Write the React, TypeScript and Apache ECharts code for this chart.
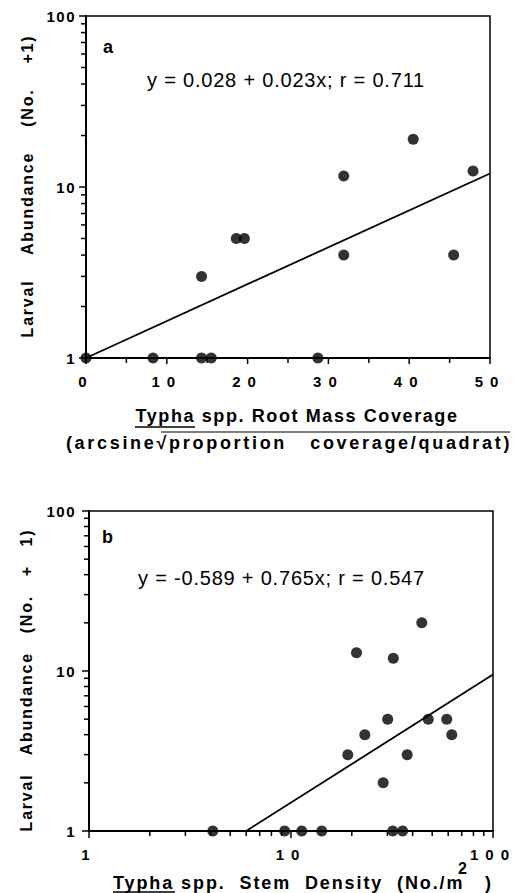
import React, { useEffect, useRef } from 'react';
import * as echarts from 'echarts';

// Panel a: root mass coverage vs larval abundance
const coverageA = [0, 8.3, 14.3, 15.5, 28.7, 14.3, 18.6, 19.6, 31.9, 31.9, 40.5, 45.5, 47.9];
const abundanceA = [1, 1, 1, 1, 1, 3, 5, 5, 11.6, 4, 19, 4, 12.4];
const fitAX = [0, 50];
const fitAY = [1, 12];

// Panel b: stem density vs larval abundance
const densityB = [4.1, 9.3, 11.3, 14.2, 31.9, 35.7, 19.1, 21.1, 23.2, 28.6, 30.1, 32.1, 37.6, 44.4, 47.8, 59, 62.5];
const abundanceB = [1, 1, 1, 1, 1, 1, 3, 13, 4, 2, 5, 12, 3, 20, 5, 5, 4];
const fitBX = [6, 100];
const fitBY = [1, 9.5];

// Ticks and labels
const xLabelsA = [0, 10, 20, 30, 40, 50];
const xMinorA = [5, 15, 25, 35, 45];
const logLabels = [1, 10, 100];
const logMinor = [2, 3, 4, 5, 6, 7, 8, 9, 20, 30, 40, 50, 60, 70, 80, 90];

const EQ_A = 'y = 0.028 + 0.023x; r = 0.711';
const EQ_B = 'y = -0.589 + 0.765x; r = 0.547';
const TITLE_A1 = 'Typha spp. Root Mass Coverage';
const TITLE_A2 = '(arcsine\u221Aproportion   coverage/quadrat)';
const TITLE_B = 'Typha spp.  Stem  Density  (No./m';
const YTITLE_A = 'Larval    Abundance    (No.    +1)';
const YTITLE_B = 'Larval   Abundance   (No.   +   1)';

const FONT = "'Liberation Sans', Arial, Helvetica, sans-serif";

function spacingFor(t: SVGTextElement): number | null {
  const s = t.textContent || '';
  if (s === EQ_A || s === EQ_B) return 0.8;
  if (s === TITLE_A1) return 1.6;
  if (s === TITLE_B) return 1.9;
  if (s === TITLE_A2) return 2.7;
  if (s === YTITLE_A || s === YTITLE_B) return 1.8;
  if (/^\d+$/.test(s)) {
    const anchor = t.getAttribute('text-anchor');
    if (anchor === 'end') return 1.5;
    return 7;
  }
  return null;
}

function applySpacing(root: HTMLElement | null) {
  if (!root) return;
  root.querySelectorAll('text').forEach((node) => {
    const t = node as SVGTextElement;
    t.style.whiteSpace = 'pre';
    const ls = spacingFor(t);
    if (ls !== null) t.style.letterSpacing = ls + 'px';
  });
}

const tickLabel = { fontFamily: FONT, fontWeight: 'bold' as const, fontSize: 15, color: '#000' };

// custom series that draws outward tick marks at data values via the axes' scales
function tickSeries(xAxisIndex: number, yAxisIndex: number, data: number[][], dir: 'left' | 'down') {
  return {
    type: 'custom',
    xAxisIndex,
    yAxisIndex,
    clip: false,
    silent: true,
    z: 5,
    encode: { x: 0, y: 1 },
    data,
    renderItem: (_params: any, api: any) => {
      const p = api.coord([api.value(0), api.value(1)]);
      const len = api.value(2);
      const shape = dir === 'left'
        ? { x1: p[0] - len, y1: p[1], x2: p[0], y2: p[1] }
        : { x1: p[0], y1: p[1], x2: p[0], y2: p[1] + len };
      return { type: 'line', shape, style: { stroke: '#000', lineWidth: 1.5 } };
    },
  };
}

export default function App() {
  const ref = useRef<HTMLDivElement>(null);

  useEffect(() => {
    if (!ref.current) return;
    const chart = echarts.init(ref.current, undefined, { renderer: 'svg' });

    const axisLine = { show: true, lineStyle: { color: '#000', width: 2 } };
    const noTick = { show: false };

    const yTicksA = [...logLabels.map((v) => [0, v, 7]), ...logMinor.map((v) => [0, v, 5])];
    const xTicksA = [...xLabelsA.map((v) => [v, 1, 6]), ...xMinorA.map((v) => [v, 1, 5])];
    const yTicksB = [...logLabels.map((v) => [1, v, 7]), ...logMinor.map((v) => [1, v, 5])];
    const xTicksB = [...logLabels.map((v) => [v, 1, 7]), ...logMinor.map((v) => [v, 1, 5])];

    chart.setOption({
      animation: false,
      backgroundColor: '#fff',
      grid: [
        { left: 86, top: 16, width: 404, height: 342, show: true, borderColor: '#000', borderWidth: 1.5 },
        { left: 89, top: 511, width: 404, height: 320, show: true, borderColor: '#000', borderWidth: 1.5 },
      ],
      xAxis: [
        {
          gridIndex: 0, type: 'value', min: 0, max: 50, interval: 10,
          axisLine, axisTick: noTick,
          axisLabel: { ...tickLabel, margin: 16, customValues: xLabelsA },
          splitLine: { show: false },
        },
        {
          gridIndex: 1, type: 'log', logBase: 10, min: 1, max: 100,
          axisLine, axisTick: noTick,
          axisLabel: { ...tickLabel, margin: 16, customValues: logLabels },
          splitLine: { show: false },
        },
      ],
      yAxis: [
        {
          gridIndex: 0, type: 'log', logBase: 10, min: 1, max: 100,
          axisLine, axisTick: noTick,
          axisLabel: { ...tickLabel, margin: 10, customValues: logLabels },
          splitLine: { show: false },
        },
        {
          gridIndex: 1, type: 'log', logBase: 10, min: 1, max: 100,
          axisLine, axisTick: noTick,
          axisLabel: { ...tickLabel, margin: 13, customValues: logLabels },
          splitLine: { show: false },
        },
      ],
      series: [
        tickSeries(0, 0, yTicksA, 'left'),
        tickSeries(0, 0, xTicksA, 'down'),
        tickSeries(1, 1, yTicksB, 'left'),
        tickSeries(1, 1, xTicksB, 'down'),
        {
          type: 'line', xAxisIndex: 0, yAxisIndex: 0,
          data: fitAX.map((x, i) => [x, fitAY[i]]),
          showSymbol: false, symbol: 'none', clip: false,
          lineStyle: { color: '#000', width: 1.8 },
        },
        {
          type: 'scatter', xAxisIndex: 0, yAxisIndex: 0,
          data: coverageA.map((x, i) => [x, abundanceA[i]]),
          symbol: 'circle', symbolSize: 11, clip: false,
          itemStyle: { color: '#000' },
        },
        {
          type: 'line', xAxisIndex: 1, yAxisIndex: 1,
          data: fitBX.map((x, i) => [x, fitBY[i]]),
          showSymbol: false, symbol: 'none', clip: false,
          lineStyle: { color: '#000', width: 1.8 },
        },
        {
          type: 'scatter', xAxisIndex: 1, yAxisIndex: 1,
          data: densityB.map((x, i) => [x, abundanceB[i]]),
          symbol: 'circle', symbolSize: 11, clip: false,
          itemStyle: { color: '#000' },
        },
      ],
      graphic: [
        { type: 'text', x: 103, y: 47, style: { text: 'a', font: `bold 18px ${FONT}`, fill: '#000', textVerticalAlign: 'middle' } },
        { type: 'text', x: 147, y: 80, style: { text: EQ_A, font: `20px ${FONT}`, fill: '#000', textVerticalAlign: 'middle' } },
        { type: 'text', x: 102, y: 537, style: { text: 'b', font: `bold 18px ${FONT}`, fill: '#000', textVerticalAlign: 'middle' } },
        { type: 'text', x: 138, y: 578, style: { text: EQ_B, font: `20px ${FONT}`, fill: '#000', textVerticalAlign: 'middle' } },
        { type: 'text', x: 297, y: 416, style: { text: TITLE_A1, font: `bold 18px ${FONT}`, fill: '#000', textAlign: 'center', textVerticalAlign: 'middle' } },
        { type: 'line', shape: { x1: 135, y1: 427, x2: 195, y2: 427 }, style: { stroke: '#000', lineWidth: 1.5 } },
        { type: 'text', x: 289, y: 443, style: { text: TITLE_A2, font: `bold 18px ${FONT}`, fill: '#000', textAlign: 'center', textVerticalAlign: 'middle' } },
        { type: 'line', shape: { x1: 161, y1: 432, x2: 510, y2: 432 }, style: { stroke: '#000', lineWidth: 1.2 } },
        { type: 'text', x: 113, y: 883, style: { text: TITLE_B, font: `bold 18px ${FONT}`, fill: '#000', textVerticalAlign: 'middle' } },
        { type: 'text', x: 466, y: 868, style: { text: '2', font: `bold 16px ${FONT}`, fill: '#000', textAlign: 'center', textVerticalAlign: 'middle' } },
        { type: 'text', x: 485, y: 883, style: { text: ')', font: `bold 18px ${FONT}`, fill: '#000', textVerticalAlign: 'middle' } },
        { type: 'line', shape: { x1: 113, y1: 892, x2: 175, y2: 892 }, style: { stroke: '#000', lineWidth: 1.5 } },
        { type: 'text', x: 27, y: 186, rotation: Math.PI / 2, style: { text: YTITLE_A, font: `bold 16px ${FONT}`, fill: '#000', textAlign: 'center', textVerticalAlign: 'middle' } },
        { type: 'text', x: 26, y: 680, rotation: Math.PI / 2, style: { text: YTITLE_B, font: `bold 16px ${FONT}`, fill: '#000', textAlign: 'center', textVerticalAlign: 'middle' } },
      ],
    });

    const el = ref.current;
    applySpacing(el);
    chart.on('finished', () => applySpacing(el));
    const timer = window.setTimeout(() => applySpacing(el), 50);

    return () => {
      window.clearTimeout(timer);
      chart.dispose();
    };
  }, []);

  return (
    <div
      ref={ref}
      style={{ position: 'fixed', left: 0, top: 0, width: 515, height: 893, background: '#fff' }}
    />
  );
}
